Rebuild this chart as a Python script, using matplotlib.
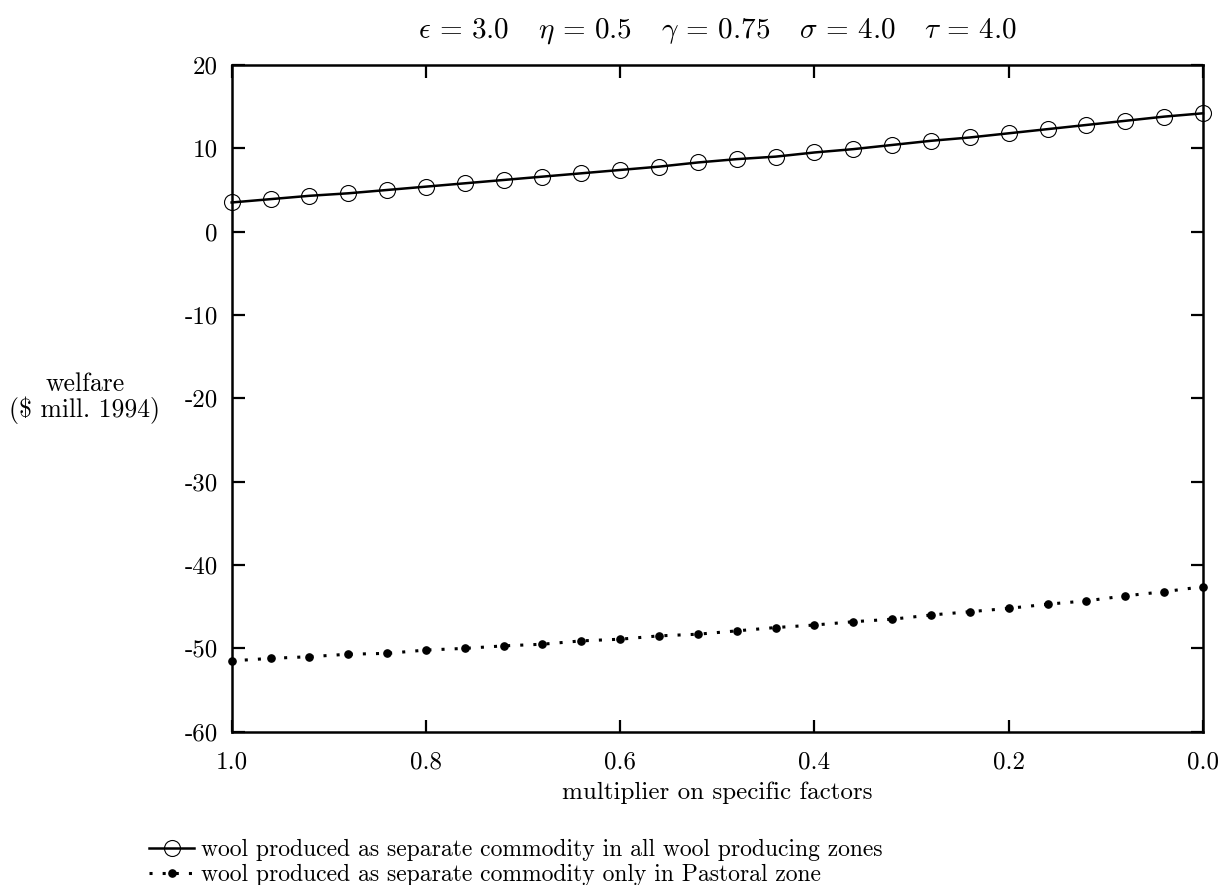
import matplotlib

matplotlib.use("Agg")

import matplotlib.pyplot as plt
from matplotlib.lines import Line2D

plt.rcParams["font.family"] = "serif"
plt.rcParams["font.serif"] = ["cmr10", "DejaVu Serif"]
plt.rcParams["mathtext.fontset"] = "cm"
plt.rcParams["axes.formatter.use_mathtext"] = True

# multiplier on specific factors (x axis runs from 1.0 down to 0.0)
multiplier = [1.00, 0.96, 0.92, 0.88, 0.84, 0.80, 0.76, 0.72, 0.68, 0.64, 0.60, 0.56, 0.52,
              0.48, 0.44, 0.40, 0.36, 0.32, 0.28, 0.24, 0.20, 0.16, 0.12, 0.08, 0.04, 0.00]

welfare_all_zones = [3.5, 3.9, 4.3, 4.6, 5.0, 5.4, 5.8, 6.2, 6.6, 7.0, 7.4, 7.8, 8.3,
                     8.7, 9.0, 9.5, 9.9, 10.4, 10.9, 11.3, 11.8, 12.3, 12.8, 13.3, 13.8, 14.2]

welfare_pastoral = [-51.5, -51.2, -51.0, -50.7, -50.6, -50.2, -50.0, -49.7, -49.5, -49.1,
                    -48.9, -48.5, -48.3, -47.9, -47.5, -47.2, -46.8, -46.5, -46.0, -45.6,
                    -45.2, -44.7, -44.3, -43.7, -43.2, -42.6]

x_ticks = [1.0, 0.8, 0.6, 0.4, 0.2, 0.0]
x_tick_labels = ["1.0", "0.8", "0.6", "0.4", "0.2", "0.0"]
y_ticks = [-60, -50, -40, -30, -20, -10, 0, 10, 20]
y_tick_labels = ["-60", "-50", "-40", "-30", "-20", "-10", "0", "10", "20"]

label_all = "wool produced as separate commodity in all wool producing zones"
label_pastoral = "wool produced as separate commodity only in Pastoral zone"

FS = 18
LEG_FS = 17

fig = plt.figure(figsize=(12.27, 8.85), dpi=100)
ax = fig.add_axes([0.1888, 0.1732, 0.9804 - 0.1888, 0.9266 - 0.1732])

ax.plot(multiplier, welfare_all_zones, color="black", linewidth=1.8, zorder=3,
        clip_on=False)
ax.plot(multiplier, welfare_all_zones, linestyle="none", marker="o", markersize=11.5,
        markerfacecolor="none", markeredgecolor="black", markeredgewidth=0.8,
        zorder=4, clip_on=False)

ax.plot(multiplier, welfare_pastoral, color="black", linewidth=2.2,
        linestyle=(0, (1, 3.3)), dash_capstyle="butt", zorder=3, clip_on=False)
ax.plot(multiplier, welfare_pastoral, linestyle="none", marker="o", markersize=5.2,
        markerfacecolor="black", markeredgecolor="black", zorder=4, clip_on=False)

ax.set_xlim(1.0, 0.0)
ax.set_ylim(-60, 20)
ax.set_xticks(x_ticks)
ax.set_xticklabels(x_tick_labels, fontsize=FS)
ax.set_yticks(y_ticks)
ax.set_yticklabels(y_tick_labels, fontsize=FS)
ax.tick_params(direction="in", length=9, width=1.6, top=True, right=True)
ax.tick_params(axis="y", pad=10)
ax.tick_params(axis="x", pad=14)
for sp in ax.spines.values():
    sp.set_linewidth(1.8)

ax.set_xlabel("multiplier on specific factors", fontsize=FS, labelpad=6)
ax.set_ylabel("welfare\n(\\$ mill. 1994)", fontsize=FS + 0.5, rotation=0,
              ha="center", va="center", linespacing=1.05)
ax.yaxis.set_label_coords(-0.151, 0.5)

ax.set_title(r"$\epsilon \,=\, 3.0 \quad\, \eta \,=\, 0.5 \quad\, \gamma \,=\, 0.75"
             r" \quad\, \sigma \,=\, 4.0 \quad\, \tau \,=\, 4.0$",
             fontsize=FS + 3, pad=20)

handles = [
    Line2D([], [], color="black", linewidth=1.8, marker="o", markersize=11.5,
           markerfacecolor="none", markeredgewidth=0.8),
    Line2D([], [], color="black", linewidth=2.2, linestyle=(0, (1, 3.3)),
           dash_capstyle="butt", marker="o", markersize=5.2),
]
fig.legend(handles, [label_all, label_pastoral], loc="lower left",
           bbox_to_anchor=(0.114, -0.012), frameon=False, fontsize=LEG_FS,
           handlelength=1.9, handletextpad=0.3, labelspacing=0.12, numpoints=1,
           borderaxespad=0.0)

fig.savefig("out.png", dpi=100)
